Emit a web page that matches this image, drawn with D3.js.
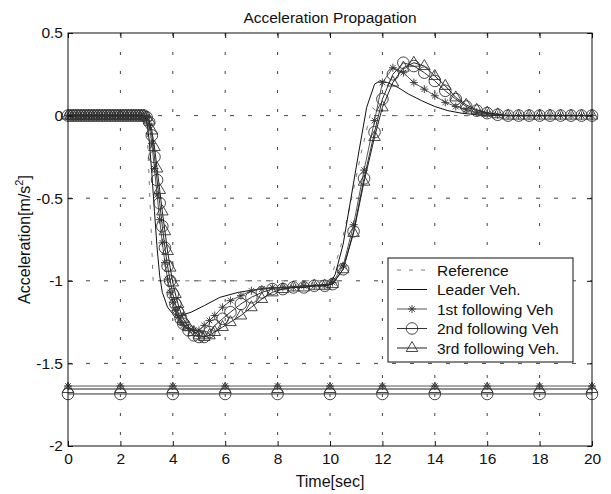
<!DOCTYPE html>
<html>
<head>
<meta charset="utf-8">
<script src="https://cdn.jsdelivr.net/npm/d3@7"></script>
<style>
  body { margin: 0; background: #fff; }
  text { font-family: "Liberation Sans", Arial, sans-serif; fill: #111; }
</style>
</head>
<body>
<div id="chart"></div>
<script>
{
const width = 611;
const height = 494;
const margin = {top: 33, right: 19, bottom: 48, left: 68};

// sample times shared by the three following vehicles
const t = [0, 0.1, 0.2, 0.3, 0.4, 0.5, 0.6, 0.7, 0.8, 0.9, 1.0, 1.1, 1.2, 1.3, 1.4, 1.5, 1.6, 1.7, 1.8, 1.9,
  2.0, 2.1, 2.2, 2.3, 2.4, 2.5, 2.6, 2.7, 2.8, 2.9,
  3.0, 3.1, 3.2, 3.3, 3.4, 3.5, 3.6, 3.7, 3.8, 3.9, 4.0, 4.1, 4.2, 4.3, 4.4, 4.6, 4.8, 5.0, 5.2, 5.4, 5.6,
  5.9, 6.2, 6.6, 7.0, 7.4, 7.8, 8.2, 8.6, 9.0, 9.4, 9.8, 10.1, 10.5, 10.9, 11.3, 11.7,
  12.0, 12.4, 12.8, 13.2, 13.6, 14.0, 14.4, 14.8, 15.2, 15.6, 16.0, 16.4, 16.8, 17.2, 17.6, 18.0, 18.4, 18.8, 19.2, 19.6, 20.0];

const first = [0, 0, 0, 0, 0, 0, 0, 0, 0, 0, 0, 0, 0, 0, 0, 0, 0, 0, 0, 0,
  0, 0, 0, 0, 0, 0, 0, 0, 0, 0,
  -0.01, -0.06, -0.17, -0.32, -0.48, -0.63, -0.77, -0.89, -0.99, -1.07, -1.13, -1.18, -1.22, -1.25, -1.27, -1.29, -1.30, -1.30, -1.27, -1.24, -1.21,
  -1.16, -1.12, -1.09, -1.06, -1.05, -1.04, -1.04, -1.04, -1.03, -1.03, -1.03, -1.01, -0.91, -0.66, -0.33, -0.03,
  0.20, 0.29, 0.26, 0.20, 0.16, 0.12, 0.08, 0.055, 0.035, 0.02, 0.01, 0.005, 0, 0, 0, 0, 0, 0, 0, 0, 0];

const second = [0, 0, 0, 0, 0, 0, 0, 0, 0, 0, 0, 0, 0, 0, 0, 0, 0, 0, 0, 0,
  0, 0, 0, 0, 0, 0, 0, 0, 0, 0,
  -0.01, -0.04, -0.12, -0.25, -0.39, -0.53, -0.67, -0.80, -0.91, -1.00, -1.08, -1.14, -1.19, -1.23, -1.26, -1.30, -1.33, -1.34, -1.34, -1.31, -1.27,
  -1.23, -1.19, -1.14, -1.10, -1.07, -1.05, -1.05, -1.04, -1.04, -1.03, -1.03, -1.02, -0.93, -0.70, -0.38, -0.10,
  0.10, 0.25, 0.32, 0.30, 0.26, 0.21, 0.15, 0.10, 0.055, 0.03, 0.015, 0.005, 0, 0, 0, 0, 0, 0, 0, 0, 0];

const third = [0, 0, 0, 0, 0, 0, 0, 0, 0, 0, 0, 0, 0, 0, 0, 0, 0, 0, 0, 0,
  0, 0, 0, 0, 0, 0, 0, 0, 0, 0,
  -0.01, -0.03, -0.09, -0.19, -0.32, -0.45, -0.58, -0.70, -0.82, -0.92, -1.01, -1.08, -1.14, -1.19, -1.23, -1.28, -1.31, -1.33, -1.34, -1.33, -1.31,
  -1.28, -1.25, -1.21, -1.16, -1.11, -1.07, -1.05, -1.04, -1.04, -1.03, -1.03, -1.02, -0.93, -0.71, -0.40, -0.13,
  0.05, 0.20, 0.29, 0.32, 0.30, 0.24, 0.18, 0.11, 0.065, 0.035, 0.018, 0.008, 0, 0, 0, 0, 0, 0, 0, 0, 0];

const leaderT = [0, 2.9, 3.0, 3.1, 3.2, 3.3, 3.4, 3.5, 3.6, 3.8, 4.0, 4.3, 4.7, 5.2, 5.8, 6.5, 7.3, 8.2, 9.2, 10.0,
  10.2, 10.5, 10.8, 11.1, 11.4, 11.7, 11.9, 12.2, 12.6, 13.0, 13.5, 14.0, 14.5, 15.0, 15.6, 16.5, 20];
const leader = [0, 0, -0.03, -0.15, -0.35, -0.58, -0.80, -0.97, -1.07, -1.16, -1.20, -1.21, -1.19, -1.15, -1.10, -1.07, -1.05, -1.04, -1.03, -1.02,
  -0.96, -0.78, -0.50, -0.22, 0.05, 0.19, 0.21, 0.20, 0.17, 0.13, 0.09, 0.055, 0.03, 0.015, 0.005, 0, 0];

const refT = [0, 3.0, 3.25, 10.0, 10.4, 10.8, 11.2, 11.6, 12.0, 20];
const reference = [0, 0, -1, -1, -0.8, -0.52, -0.22, 0.05, 0, 0];

// flat traces near the bottom, marked every 2 s
const flatT = [0, 2, 4, 6, 8, 10, 12, 14, 16, 18, 20];
const flatFirst = -1.637;
const flatThird = -1.655;
const flatSecond = -1.685;

const xTicks = [0, 2, 4, 6, 8, 10, 12, 14, 16, 18, 20];
const yTicks = [0.5, 0, -0.5, -1, -1.5, -2];
const yTickLabels = ['0.5', '0', '-0.5', '-1', '-1.5', '-2'];

const legendNames = ['Reference', 'Leader Veh.', '1st following Veh', '2nd following Veh', '3rd following Veh.'];

const iw = width - margin.left - margin.right;
const ih = height - margin.top - margin.bottom;
const fontSize = '15.5px';

let svg = d3.select('#chart')
    .append('svg')
    .attr('width', width)
    .attr('height', height);

let g = svg.append('g')
    .attr('transform', `translate(${margin.left}, ${margin.top})`);

let x = d3.scaleLinear().domain([0, 20]).range([0, iw]);
let y = d3.scaleLinear().domain([-2, 0.5]).range([ih, 0]);

// dotted grid
g.append('g').selectAll('line').data(xTicks.slice(1, -1)).enter().append('line')
    .attr('x1', d => x(d)).attr('x2', d => x(d))
    .attr('y1', 0).attr('y2', ih)
    .attr('stroke', '#444').attr('stroke-dasharray', '3,16');
g.append('g').selectAll('line').data(yTicks.slice(1, -1)).enter().append('line')
    .attr('y1', d => y(d)).attr('y2', d => y(d))
    .attr('x1', 0).attr('x2', iw)
    .attr('stroke', '#444').attr('stroke-dasharray', '4,14');

// marker shapes
const star = 'M-4,0L4,0M0,-4L0,4M-2.8,-2.8L2.8,2.8M-2.8,2.8L2.8,-2.8';
const tri = 'M0,-6.5L5.8,3.5L-5.8,3.5Z';

function addMarkers(pts, kind) {
    let sel = g.append('g').selectAll('path').data(pts).enter();
    if (kind === 'circle') {
        sel.append('circle')
            .attr('cx', d => x(d[0])).attr('cy', d => y(d[1])).attr('r', 5.8)
            .attr('fill', 'none').attr('stroke', '#333').attr('stroke-width', 0.9);
    } else {
        sel.append('path')
            .attr('transform', d => `translate(${x(d[0])},${y(d[1])})`)
            .attr('d', kind === 'star' ? star : tri)
            .attr('fill', 'none').attr('stroke', '#333').attr('stroke-width', 0.9);
    }
}

let line = d3.line().x(d => x(d[0])).y(d => y(d[1]));

const series = [
    {pts: refT.map((d, i) => [d, reference[i]]), color: '#777', dash: '4,8', marker: null},
    {pts: leaderT.map((d, i) => [d, leader[i]]), color: '#111', dash: null, marker: null},
    {pts: t.map((d, i) => [d, first[i]]), color: '#555', dash: null, marker: 'star'},
    {pts: t.map((d, i) => [d, second[i]]), color: '#333', dash: null, marker: 'circle'},
    {pts: t.map((d, i) => [d, third[i]]), color: '#222', dash: null, marker: 'tri'}
];

const flats = [
    {v: flatFirst, color: '#555', marker: 'star'},
    {v: flatThird, color: '#222', marker: 'tri'},
    {v: flatSecond, color: '#333', marker: 'circle'}
];

flats.forEach(f => {
    let pts = flatT.map(d => [d, f.v]);
    g.append('path').datum(pts).attr('d', line)
        .attr('fill', 'none').attr('stroke', f.color).attr('stroke-width', 1);
    addMarkers(pts, f.marker);
});

series.forEach(s => {
    g.append('path').datum(s.pts).attr('d', line)
        .attr('fill', 'none').attr('stroke', s.color).attr('stroke-width', 1)
        .attr('stroke-dasharray', s.dash);
    if (s.marker) addMarkers(s.pts, s.marker);
});

// axes box with inward ticks
g.append('g').attr('transform', `translate(0, ${ih})`)
    .call(d3.axisBottom(x).tickValues(xTicks).tickSizeInner(-5).tickSizeOuter(0).tickPadding(7).tickFormat(d3.format('d')));
g.append('g')
    .call(d3.axisTop(x).tickValues(xTicks).tickSizeInner(-5).tickSizeOuter(0).tickFormat(''));
g.append('g')
    .call(d3.axisLeft(y).tickValues(yTicks).tickSizeInner(-5).tickSizeOuter(0).tickPadding(5).tickFormat((d, i) => yTickLabels[i]));
g.append('g').attr('transform', `translate(${iw}, 0)`)
    .call(d3.axisRight(y).tickValues(yTicks).tickSizeInner(-5).tickSizeOuter(0).tickFormat(''));
g.append('rect').attr('width', iw).attr('height', ih)
    .attr('fill', 'none').attr('stroke', '#111').attr('stroke-width', 1);
g.selectAll('.domain').remove();
g.selectAll('.tick line').attr('stroke', '#111');
g.selectAll('.tick text').style('font-size', fontSize).style('font-family', '"Liberation Sans", Arial, sans-serif').attr('fill', '#111');

// titles
svg.append('text')
    .attr('x', margin.left + iw / 2).attr('y', 23)
    .style('text-anchor', 'middle').style('font-size', fontSize)
    .text('Acceleration Propagation');
svg.append('text')
    .attr('x', margin.left + iw / 2).attr('y', 487)
    .style('text-anchor', 'middle').style('font-size', '16px')
    .text('Time[sec]');
let yl = svg.append('text')
    .attr('transform', `translate(30, ${margin.top + ih / 2}) rotate(-90)`)
    .style('text-anchor', 'middle').style('font-size', '16px');
yl.append('tspan').text('Acceleration[m/s');
yl.append('tspan').attr('dy', -7).style('font-size', '11px').text('2');
yl.append('tspan').attr('dy', 7).text(']');

// legend
let lg = svg.append('g').attr('transform', 'translate(388, 258)');
lg.append('rect').attr('width', 185).attr('height', 104)
    .attr('fill', '#fff').attr('stroke', '#111').attr('stroke-width', 1);
legendNames.forEach((name, i) => {
    let s = series[i];
    let cy = 12 + i * 19.5;
    lg.append('line').attr('x1', 9).attr('x2', 39).attr('y1', cy).attr('y2', cy)
        .attr('stroke', s.color).attr('stroke-width', 1).attr('stroke-dasharray', s.dash);
    if (s.marker === 'circle') {
        lg.append('circle').attr('cx', 24).attr('cy', cy).attr('r', 5.8)
            .attr('fill', 'none').attr('stroke', '#333').attr('stroke-width', 0.9);
    } else if (s.marker) {
        lg.append('path').attr('transform', `translate(24,${cy})`)
            .attr('d', s.marker === 'star' ? star : tri)
            .attr('fill', 'none').attr('stroke', '#333').attr('stroke-width', 0.9);
    }
    lg.append('text').attr('x', 49).attr('y', cy + 5.5)
        .style('font-size', fontSize).text(name);
});
}
</script>
</body>
</html>
